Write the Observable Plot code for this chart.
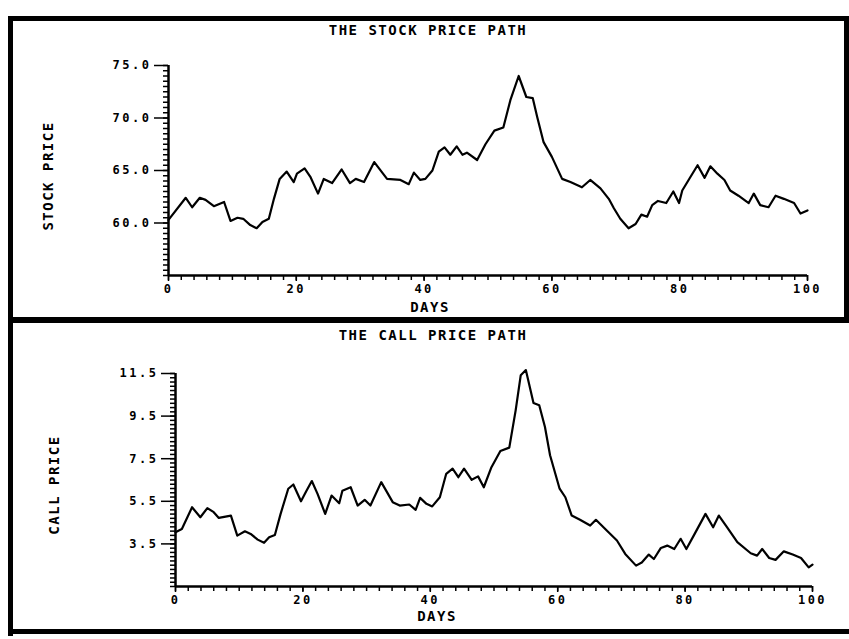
<!DOCTYPE html>
<html><head><meta charset="utf-8">
<script src="https://cdn.jsdelivr.net/npm/d3@7"></script>
<script src="https://cdn.jsdelivr.net/npm/@observablehq/plot@0.6"></script>
<style>
html,body{margin:0;padding:0;background:#fff;}
body{width:849px;height:639px;overflow:hidden;position:relative;}
.pane{position:absolute;left:0;width:849px;}
.bar{position:absolute;background:#000;}
.lbl{position:absolute;font-family:"DejaVu Sans Mono",monospace;font-weight:bold;color:#000;white-space:nowrap;transform:translate(-50%,-50%);font-size:14px;letter-spacing:1.5px;}
.rot{transform:translate(-50%,-50%) rotate(-90deg);}
</style></head><body>
<div id="top" class="pane" style="top:0"></div>
<div id="bot" class="pane" style="top:318px"></div>

<div class="bar" style="left:8px;top:16px;width:841px;height:5px"></div>
<div class="bar" style="left:8px;top:16px;width:5px;height:620px"></div>
<div class="bar" style="left:844px;top:16px;width:5px;height:302px"></div>
<div class="bar" style="left:8px;top:317px;width:841px;height:6px"></div>
<div class="bar" style="left:8px;top:629px;width:841px;height:5px"></div>

<div class="lbl" style="left:428px;top:30px">THE STOCK PRICE PATH</div>
<div class="lbl" style="left:430px;top:307px">DAYS</div>
<div class="lbl rot" style="left:48px;top:176px">STOCK PRICE</div>
<div class="lbl" style="left:433px;top:335px">THE CALL PRICE PATH</div>
<div class="lbl" style="left:437px;top:616px">DAYS</div>
<div class="lbl rot" style="left:54px;top:485px">CALL PRICE</div>

<script>
// ---- data ----
const stockDays = [0,2.7,3.7,4.9,5.8,7.1,8.7,9.7,10.8,11.7,12.8,13.8,14.7,15.7,16.5,17.4,18.5,19.6,20.1,21.3,22.2,23.4,24.3,25.6,27.1,28.4,29.3,30.6,32.2,34.2,36.3,37.6,38.4,39.4,40.2,41.3,42.3,43.2,44.1,45.1,46,46.7,48.3,49.6,51,52.4,53.5,54.8,56,57,57.7,58.7,60,61.6,62.9,64.7,66,67.6,68.9,69.7,70.7,72,73.1,74,74.9,75.7,76.6,77.9,79,79.9,80.4,81.7,82.8,83.9,84.8,85.9,87,87.9,89.2,90.8,91.6,92.6,93.9,95,96.3,97.9,98.9,100];
const stockPrice = [60.3,62.4,61.5,62.4,62.2,61.6,62.0,60.2,60.5,60.4,59.8,59.5,60.1,60.4,62.3,64.2,64.9,63.9,64.7,65.2,64.4,62.8,64.2,63.8,65.1,63.8,64.2,63.9,65.8,64.2,64.1,63.7,64.8,64.1,64.2,65.0,66.8,67.2,66.5,67.3,66.5,66.7,66.0,67.5,68.8,69.1,71.7,74.0,72.0,71.9,70.1,67.7,66.3,64.2,63.9,63.4,64.1,63.3,62.3,61.4,60.4,59.5,59.9,60.8,60.6,61.7,62.1,61.9,63.0,61.9,63.1,64.4,65.5,64.3,65.4,64.7,64.1,63.1,62.6,61.9,62.8,61.7,61.5,62.6,62.3,61.9,60.9,61.2];

const callDays = [0,1,2.6,3.9,5,6,6.8,8.7,9.7,10.9,11.8,12.9,13.9,14.7,15.6,16.5,17.7,18.5,19.7,20.5,21.4,22.3,23.5,24.5,25.7,26.2,27.5,28.6,29.7,30.6,32.3,34.1,35.2,36.7,37.7,38.4,39.4,40.3,41.5,42.5,43.5,44.4,45.3,46.5,47.5,48.4,49.6,51,52.4,53.4,54.2,55,56.2,57.1,58,58.8,60.3,61.2,62.2,63.5,65.1,66,67.7,69.3,70.6,72.3,73.2,74.3,75.1,76.2,77.2,78.3,79.3,80.2,81.5,83.2,84.4,85.3,86.6,88.2,90.3,91.3,92.1,93.2,94.2,95.5,96.9,98.2,99.4,100];
const callPrice = [4.05,4.2,5.22,4.75,5.18,4.99,4.72,4.83,3.89,4.09,3.97,3.7,3.55,3.81,3.92,4.91,6.09,6.29,5.5,5.96,6.45,5.85,4.91,5.77,5.41,6.0,6.16,5.3,5.57,5.3,6.4,5.46,5.3,5.35,5.1,5.66,5.38,5.26,5.69,6.79,7.03,6.63,7.03,6.51,6.67,6.16,7.1,7.86,8.02,9.77,11.42,11.66,10.12,10.01,8.99,7.66,6.09,5.69,4.83,4.63,4.36,4.63,4.13,3.66,3.03,2.48,2.63,3.0,2.79,3.31,3.42,3.26,3.74,3.26,3.97,4.91,4.28,4.83,4.28,3.58,3.06,2.95,3.26,2.84,2.75,3.15,3.0,2.84,2.4,2.53];

const dayTicks = [0, 20, 40, 60, 80, 100];
const stockTicks = [60, 65, 70, 75];
const callTicks = [3.5, 5.5, 7.5, 9.5, 11.5];

const stock = stockDays.map((d, i) => ({day: d, price: stockPrice[i]}));
const call = callDays.map((d, i) => ({day: d, price: callPrice[i]}));

const fontStyle = {fontFamily: "DejaVu Sans Mono, monospace", fontWeight: "bold", fontSize: "12px", letterSpacing: "2.5px", background: "transparent", color: "#000"};

function panel(data, yDomain, yTicks, yMinorStep, opts) {
  return Plot.plot({
    width: 849, height: opts.height,
    marginLeft: opts.ml, marginRight: opts.mr, marginTop: opts.mt, marginBottom: opts.mb,
    x: {domain: [0, 100]},
    y: {domain: yDomain},
    style: fontStyle,
    marks: [
      Plot.axisY(d3.range(yDomain[0], yDomain[1] + 1e-9, yMinorStep), {tickSize: 5, text: null, label: null, strokeWidth: 1.5}),
      Plot.axisY(yTicks, {tickSize: 14, tickPadding: 3, tickFormat: d => d.toFixed(1), label: null, strokeWidth: 1.5}),
      Plot.axisX(d3.range(0, 101, 2), {tickSize: 5, text: null, label: null, strokeWidth: 1.5}),
      Plot.axisX(dayTicks, {tickSize: 6, tickPadding: 3, label: null, strokeWidth: 1.5}),
      Plot.ruleX([0], {strokeWidth: 2.5}),
      Plot.ruleY([yDomain[0]], {strokeWidth: 2.5}),
      Plot.line(data, {x: "day", y: "price", stroke: "#000", strokeWidth: 2.2})
    ]
  });
}

document.getElementById("top").appendChild(
  panel(stock, [55, 75], stockTicks, 0.5, {height: 318, ml: 168, mr: 42, mt: 65, mb: 43})
);
document.getElementById("bot").appendChild(
  panel(call, [1.5, 11.5], callTicks, 0.2, {height: 321, ml: 175, mr: 37, mt: 55, mb: 53})
);
</script>
</body></html>
